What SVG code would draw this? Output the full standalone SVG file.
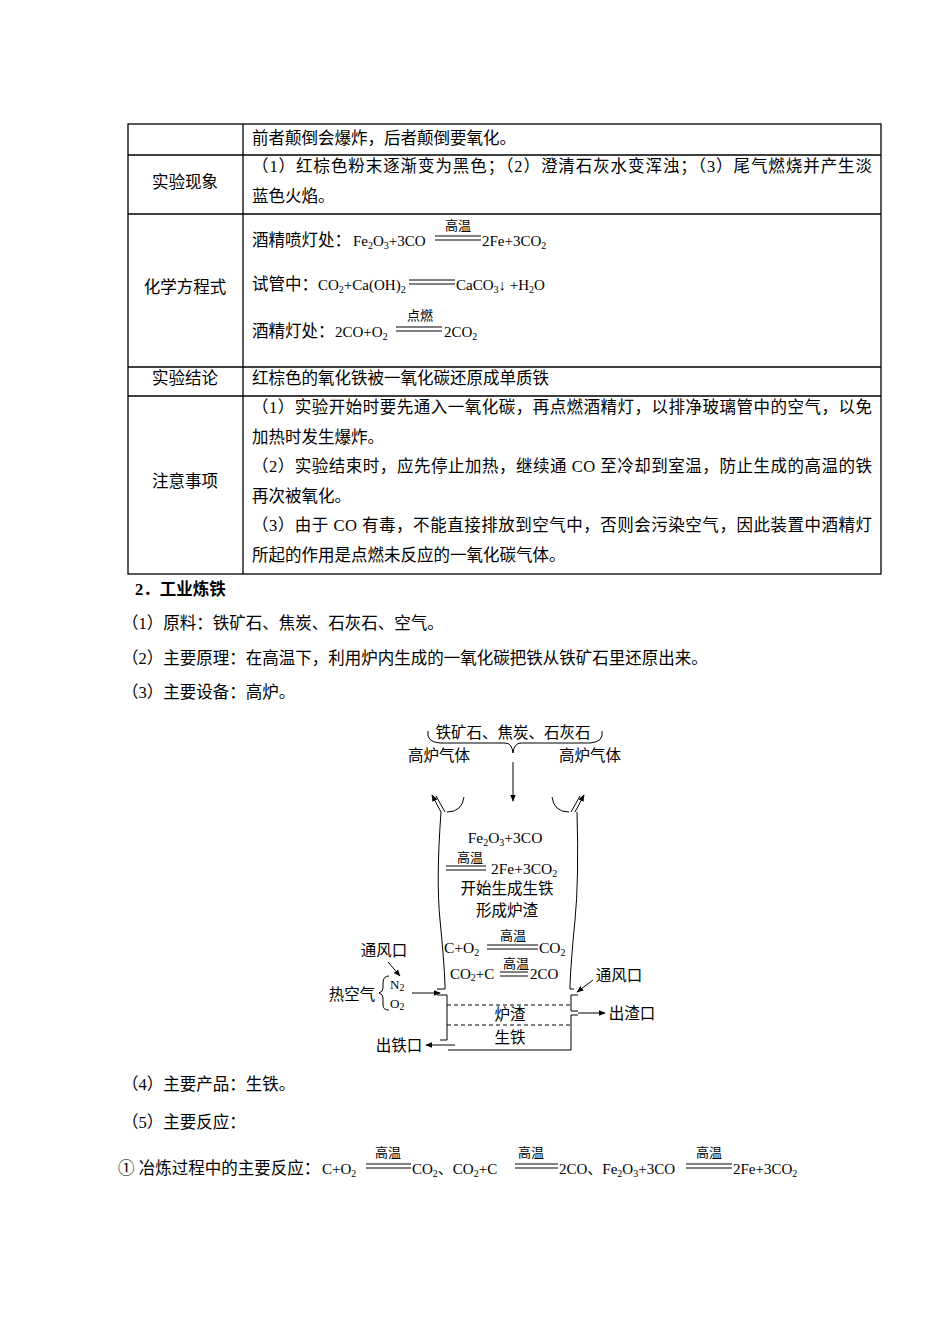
<svg xmlns="http://www.w3.org/2000/svg" width="950" height="1344" viewBox="0 0 950 1344">
<style>
text{font-family:"Liberation Serif","Noto Sans CJK SC",serif;font-size:16.5px;fill:#000}
.f{font-size:15px}
.s{font-size:10px}
.sm{font-size:13px}
.d{font-size:15.5px}
.b{font-weight:bold}
.l{stroke:#000;stroke-width:1;fill:none}
.t{stroke:#000;stroke-width:1.3;fill:none}
.dash{stroke:#000;stroke-width:1;stroke-dasharray:4,3;fill:none}
</style>
<defs>
<marker id="ah" viewBox="0 0 10 10" refX="9" refY="5" markerWidth="7" markerHeight="7" orient="auto"><path d="M0,1 L10,5 L0,9 Z" fill="#000"/></marker>
</defs>
<rect width="950" height="1344" fill="#fff"/>
<g id="table">
<rect x="128" y="124" width="753" height="450" class="t"/>
<line x1="243" y1="124" x2="243" y2="574" class="t"/>
<line x1="128" y1="155" x2="881" y2="155" class="t"/>
<line x1="128" y1="214" x2="881" y2="214" class="t"/>
<line x1="128" y1="367" x2="881" y2="367" class="t"/>
<line x1="128" y1="396" x2="881" y2="396" class="t"/>
<text x="252" y="144">前者颠倒会爆炸，后者颠倒要氧化。</text>
<text x="185" y="188" text-anchor="middle">实验现象</text>
<text x="252" y="172" textLength="620">（1）红棕色粉末逐渐变为黑色；（2）澄清石灰水变浑浊；（3）尾气燃烧并产生淡</text>
<text x="252" y="202">蓝色火焰。</text>
<text x="185" y="293" text-anchor="middle">化学方程式</text>
<text x="252" y="246">酒精喷灯处：</text>
<text x="353" y="246" class="f">Fe<tspan class="s" dy="3">2</tspan><tspan dy="-3">O</tspan><tspan class="s" dy="3">3</tspan><tspan dy="-3">+3CO</tspan></text>
<text x="458" y="230" class="sm" text-anchor="middle">高温</text>
<line x1="435" y1="236" x2="481" y2="236" class="l" stroke-width="1.5"/><line x1="435" y1="240" x2="481" y2="240" class="l" stroke-width="1.5"/>
<text x="482" y="246" class="f">2Fe+3CO<tspan class="s" dy="3">2</tspan></text>
<text x="252" y="290">试管中：</text>
<text x="318" y="290" class="f">CO<tspan class="s" dy="3">2</tspan><tspan dy="-3">+Ca(OH)</tspan><tspan class="s" dy="3">2</tspan></text>
<line x1="409" y1="280" x2="455" y2="280" class="l" stroke-width="1.5"/><line x1="409" y1="284" x2="455" y2="284" class="l" stroke-width="1.5"/>
<text x="456" y="290" class="f">CaCO<tspan class="s" dy="3">3</tspan><tspan dy="-3">↓ +H</tspan><tspan class="s" dy="3">2</tspan><tspan dy="-3">O</tspan></text>
<text x="252" y="337">酒精灯处：</text>
<text x="335" y="337" class="f">2CO+O<tspan class="s" dy="3">2</tspan></text>
<text x="420" y="320" class="sm" text-anchor="middle">点燃</text>
<line x1="396" y1="327" x2="442" y2="327" class="l" stroke-width="1.5"/><line x1="396" y1="331" x2="442" y2="331" class="l" stroke-width="1.5"/>
<text x="444" y="337" class="f">2CO<tspan class="s" dy="3">2</tspan></text>
<text x="185" y="384" text-anchor="middle">实验结论</text>
<text x="252" y="384">红棕色的氧化铁被一氧化碳还原成单质铁</text>
<text x="185" y="487" text-anchor="middle">注意事项</text>
<text x="252" y="413" textLength="620">（1）实验开始时要先通入一氧化碳，再点燃酒精灯，以排净玻璃管中的空气，以免</text>
<text x="252" y="443">加热时发生爆炸。</text>
<text x="252" y="472" textLength="620">（2）实验结束时，应先停止加热，继续通 CO 至冷却到室温，防止生成的高温的铁</text>
<text x="252" y="502">再次被氧化。</text>
<text x="252" y="531" textLength="620">（3）由于 CO 有毒，不能直接排放到空气中，否则会污染空气，因此装置中酒精灯</text>
<text x="252" y="561">所起的作用是点燃未反应的一氧化碳气体。</text>
</g>
<g id="body">
<text x="135" y="595" class="b">2．工业炼铁</text>
<text x="122" y="629">（1）原料：铁矿石、焦炭、石灰石、空气。</text>
<text x="122" y="664">（2）主要原理：在高温下，利用炉内生成的一氧化碳把铁从铁矿石里还原出来。</text>
<text x="122" y="698">（3）主要设备：高炉。</text>
<text x="122" y="1090">（4）主要产品：生铁。</text>
<text x="122" y="1128">（5）主要反应：</text>
<text x="118" y="1174">① 冶炼过程中的主要反应：</text>
<text x="322" y="1174" class="f">C+O<tspan class="s" dy="3">2</tspan></text>
<text x="388" y="1157" class="sm" text-anchor="middle">高温</text>
<line x1="366" y1="1164" x2="411" y2="1164" class="l" stroke-width="1.5"/><line x1="366" y1="1168" x2="411" y2="1168" class="l" stroke-width="1.5"/>
<text x="412" y="1174" class="f">CO<tspan class="s" dy="3">2</tspan><tspan dy="-3">、CO</tspan><tspan class="s" dy="3">2</tspan><tspan dy="-3">+C</tspan></text>
<text x="531" y="1157" class="sm" text-anchor="middle">高温</text>
<line x1="515" y1="1164" x2="558" y2="1164" class="l" stroke-width="1.5"/><line x1="515" y1="1168" x2="558" y2="1168" class="l" stroke-width="1.5"/>
<text x="559" y="1174" class="f">2CO、Fe<tspan class="s" dy="3">2</tspan><tspan dy="-3">O</tspan><tspan class="s" dy="3">3</tspan><tspan dy="-3">+3CO</tspan></text>
<text x="709" y="1157" class="sm" text-anchor="middle">高温</text>
<line x1="686" y1="1164" x2="732" y2="1164" class="l" stroke-width="1.5"/><line x1="686" y1="1168" x2="732" y2="1168" class="l" stroke-width="1.5"/>
<text x="733" y="1174" class="f">2Fe+3CO<tspan class="s" dy="3">2</tspan></text>
</g>
<g id="furnace">
<text x="513" y="738" text-anchor="middle" class="d">铁矿石、焦炭、石灰石</text>
<path d="M428,731 Q426,742 440,743 L505,743 Q512,743 513,753 Q514,743 521,743 L590,743 Q604,742 602,731" class="l"/>
<text x="439" y="761" text-anchor="middle" class="d">高炉气体</text>
<text x="590" y="761" text-anchor="middle" class="d">高炉气体</text>
<line x1="513" y1="762" x2="513" y2="801" class="l" marker-end="url(#ah)"/>
<path d="M441,812 Q436,880 440,920 Q444,960 445,985" class="l"/>
<path d="M577,812 Q579,880 575,920 Q571,960 570,985" class="l"/>
<path d="M441,812 L432,795" class="l" marker-end="url(#ah)"/>
<line x1="445" y1="812" x2="436" y2="796" class="l"/>
<path d="M447,812 Q462,812 464,797" class="l"/>
<path d="M575,812 L584,795" class="l" marker-end="url(#ah)"/>
<line x1="571" y1="812" x2="580" y2="796" class="l"/>
<path d="M569,812 Q554,812 552,797" class="l"/>
<text x="505" y="843" text-anchor="middle" class="d">Fe<tspan class="s" dy="3">2</tspan><tspan dy="-3">O</tspan><tspan class="s" dy="3">3</tspan><tspan dy="-3">+3CO</tspan></text>
<text x="470" y="862" text-anchor="middle" class="sm">高温</text>
<line x1="446" y1="866" x2="486" y2="866" class="l" stroke-width="1.5"/><line x1="446" y1="870" x2="486" y2="870" class="l" stroke-width="1.5"/>
<text x="491" y="874" class="d">2Fe+3CO<tspan class="s" dy="3">2</tspan></text>
<text x="507" y="894" text-anchor="middle" class="d">开始生成生铁</text>
<text x="507" y="916" text-anchor="middle" class="d">形成炉渣</text>
<text x="513" y="940" text-anchor="middle" class="sm">高温</text>
<text x="444" y="953" class="d">C+O<tspan class="s" dy="3">2</tspan></text>
<line x1="487" y1="945" x2="538" y2="945" class="l" stroke-width="1.5"/><line x1="487" y1="949" x2="538" y2="949" class="l" stroke-width="1.5"/>
<text x="539" y="953" class="d">CO<tspan class="s" dy="3">2</tspan></text>
<text x="516" y="968" text-anchor="middle" class="sm">高温</text>
<text x="450" y="979" class="f">CO<tspan class="s" dy="2">2</tspan><tspan dy="-2">+C</tspan></text>
<line x1="500" y1="972" x2="528" y2="972" class="l" stroke-width="1.5"/><line x1="500" y1="976" x2="528" y2="976" class="l" stroke-width="1.5"/>
<text x="530" y="979" class="f">2CO</text>
<path d="M445,985 L445,989 L437,989" class="l"/>
<path d="M437,995 L447,995 L447,1040 L440,1040" class="l"/>
<path d="M570,985 L570,989 L574,989" class="l"/>
<path d="M578,995 L571,995 L571,1011 L578,1011" class="l"/>
<path d="M578,1015 L571,1015 L571,1050 L448,1050" class="l"/>
<line x1="447" y1="1005" x2="571" y2="1005" class="dash"/>
<line x1="447" y1="1025" x2="571" y2="1025" class="dash"/>
<text x="510" y="1020" text-anchor="middle" class="d">炉渣</text>
<text x="510" y="1043" text-anchor="middle" class="d">生铁</text>
<text x="384" y="956" text-anchor="middle" class="d">通风口</text>
<line x1="388" y1="962" x2="400" y2="976" class="l" marker-end="url(#ah)"/>
<path d="M389,976 Q383,976 383,983 L383,988 Q383,992 379,993 Q383,994 383,998 L383,1005 Q383,1010 389,1010" class="l"/>
<text x="390" y="989" class="sm">N<tspan class="s" dy="2">2</tspan></text>
<text x="390" y="1008" class="sm">O<tspan class="s" dy="2">2</tspan></text>
<text x="352" y="1000" text-anchor="middle" class="d">热空气</text>
<line x1="412" y1="993" x2="440" y2="993" class="l" marker-end="url(#ah)"/>
<text x="619" y="981" text-anchor="middle" class="d">通风口</text>
<line x1="593" y1="980" x2="577" y2="992" class="l" marker-end="url(#ah)"/>
<line x1="578" y1="1013" x2="605" y2="1013" class="l" marker-end="url(#ah)"/>
<text x="632" y="1019" text-anchor="middle" class="d">出渣口</text>
<line x1="455" y1="1045" x2="426" y2="1045" class="l" marker-end="url(#ah)"/>
<text x="399" y="1051" text-anchor="middle" class="d">出铁口</text>
</g>
</svg>
